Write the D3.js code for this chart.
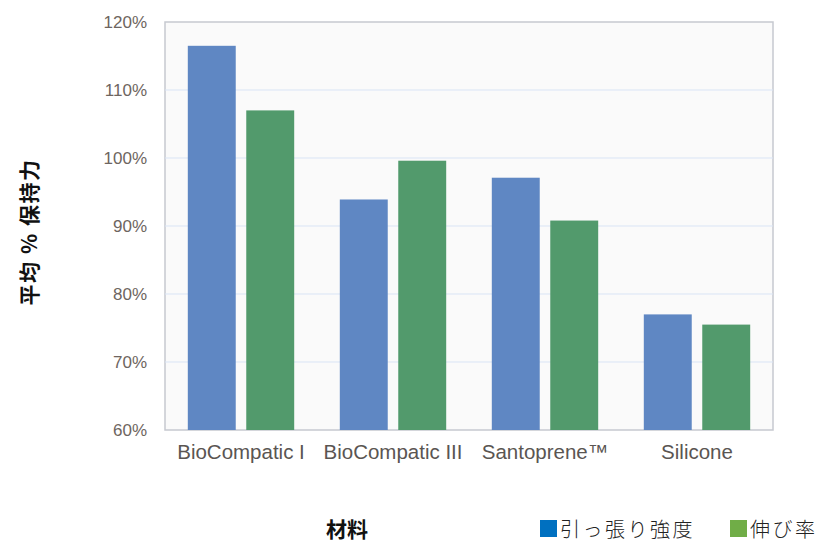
<!DOCTYPE html>
<html><head><meta charset="utf-8">
<script src="https://cdn.jsdelivr.net/npm/d3@7"></script>
<style>body{margin:0;background:#fff}svg{display:block}</style>
</head><body><svg id="c" width="828" height="542"></svg>
<script>
const categories = ["BioCompatic I", "BioCompatic III", "Santoprene™", "Silicone"];
const seriesNames = ["引っ張り強度", "伸び率"];
const tensile = [116.5, 93.9, 97.1, 77.0];
const elongation = [107.0, 99.6, 90.8, 75.5];
const yTicks = [60, 70, 80, 90, 100, 110, 120];
const barColors = ["#5f87c3", "#529a6c"];
const legendColors = ["#0070c0", "#70ad47"];

const svg = d3.select("#c");
const m = {l:165, r:773, t:22, b:430};
const x = d3.scaleBand().domain(categories).range([m.l, m.r]).paddingInner(0.30).paddingOuter(0.15);
const x1 = d3.scaleBand().domain(seriesNames).range([0, x.bandwidth()]).paddingInner(0.18);
const y = d3.scaleLinear().domain([60,120]).range([m.b, m.t]);

svg.append("rect").attr("x",m.l).attr("y",m.t).attr("width",m.r-m.l).attr("height",m.b-m.t)
  .attr("fill","#fafafa").attr("stroke","#c6c9d0").attr("stroke-width",1.5);

svg.append("g").selectAll("line").data(yTicks.slice(1,-1)).join("line")
  .attr("x1",m.l).attr("x2",m.r).attr("y1",d=>y(d)).attr("y2",d=>y(d))
  .attr("stroke","#d9e4f5").attr("stroke-width",1);

const data = categories.map((c,i)=>({c, vals:[tensile[i], elongation[i]]}));
const g = svg.append("g").selectAll("g").data(data).join("g")
  .attr("transform",d=>`translate(${x(d.c)},0)`);
g.selectAll("rect").data(d=>d.vals.map((v,j)=>({v,j}))).join("rect")
  .attr("x",d=>x1(seriesNames[d.j])).attr("width",x1.bandwidth())
  .attr("y",d=>y(d.v)).attr("height",d=>y(60)-y(d.v))
  .attr("fill",d=>barColors[d.j]);

const yAxis = d3.axisLeft(y).tickValues(yTicks).tickFormat(d=>d+"%").tickSize(0).tickPadding(18);
const ya = svg.append("g").attr("transform",`translate(${m.l},0)`).call(yAxis);
ya.select(".domain").remove();
ya.selectAll("text").attr("font-family","Liberation Sans, Arial, sans-serif").attr("font-size",17).attr("fill","#6e6560");

const xAxis = d3.axisBottom(x).tickSize(0).tickPadding(14);
const xa = svg.append("g").attr("transform",`translate(0,${m.b})`).call(xAxis);
xa.select(".domain").remove();
xa.selectAll("text").attr("font-family","Liberation Sans, Arial, sans-serif").attr("font-size",20.5).attr("fill","#5a5552");

svg.append("text").attr("transform","translate(28,232) rotate(-90)").attr("text-anchor","middle")
  .attr("dominant-baseline","central")
  .attr("font-family","Noto Sans CJK JP, sans-serif").attr("font-size",21).attr("font-weight","bold")
  .attr("letter-spacing",1.5).attr("fill","#111").text("平均 % 保持力");

svg.append("text").attr("x",347).attr("y",528).attr("text-anchor","middle").attr("dominant-baseline","central")
  .attr("font-family","Noto Sans CJK JP, sans-serif").attr("font-size",21).attr("font-weight","bold")
  .attr("fill","#111").text("材料");

const legX = [540, 730];
seriesNames.forEach((s,i)=>{
  svg.append("rect").attr("x",legX[i]).attr("y",520).attr("width",17).attr("height",17).attr("fill",legendColors[i]);
  svg.append("text").attr("x",legX[i]+20).attr("y",528).attr("dominant-baseline","central")
    .attr("font-family","Noto Sans CJK JP, sans-serif").attr("font-size",20).attr("font-weight",300)
    .attr("letter-spacing",2.5).attr("fill","#222").text(s);
});
</script></body></html>
